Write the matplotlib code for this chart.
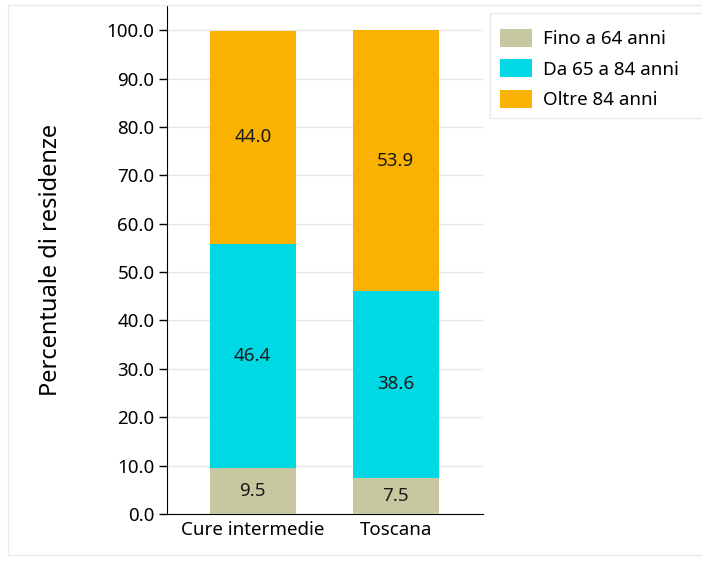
import matplotlib.pyplot as plt
from matplotlib.patches import Rectangle
import numpy as np

plt.rcParams['font.family'] = ['Noto Sans', 'DejaVu Sans']

categories = ["Cure intermedie", "Toscana"]
series_names = ["Fino a 64 anni", "Da 65 a 84 anni", "Oltre 84 anni"]
fino_64 = [9.5, 7.5]
da_65_84 = [46.4, 38.6]
oltre_84 = [44.0, 53.9]
colors = ["#C8C8A0", "#00D9E3", "#F9B200"]

fig = plt.figure(figsize=(7.02, 5.63), dpi=100)
ax = fig.add_axes([167 / 702, 1 - 514 / 563, (483 - 167) / 702, (514 - 5) / 563])

# light frame around the whole chart and around the legend
fig.patches.append(Rectangle((8 / 702, 8 / 563), 1.2, 1 - 13 / 563, transform=fig.transFigure,
                             fill=False, edgecolor="#E6ECEE", linewidth=1))
fig.patches.append(Rectangle((490 / 702, 1 - 118 / 563), 0.5, 105 / 563, transform=fig.transFigure,
                             fill=False, edgecolor="#E6ECEE", linewidth=1))

x = np.arange(len(categories))
bottom = np.zeros(len(categories))
for name, vals, col in zip(series_names, [fino_64, da_65_84, oltre_84], colors):
    bars = ax.bar(x, vals, 0.6, bottom=bottom, color=col, label=name, zorder=3)
    for b, v, bt in zip(bars, vals, bottom):
        ax.text(b.get_x() + b.get_width() / 2, bt + v / 2, f"{v:.1f}",
                ha="center", va="center", fontsize=13.5, color="#1a1a1a", zorder=4)
    bottom += np.array(vals)

ax.set_xlim(-0.6, 1.61)
ax.set_ylim(0, 105.2)
ax.set_yticks(np.arange(0, 101, 10))
ax.set_yticklabels([f"{v:.1f}" for v in np.arange(0, 101, 10)], fontsize=13.5)
ax.set_xticks(x)
ax.set_xticklabels(categories, fontsize=13.5)
ax.tick_params(axis="x", length=0, pad=5)
ax.tick_params(axis="y", length=6, width=1, pad=3)
ax.yaxis.grid(True, color="#E6E6E6", linewidth=1, zorder=0)
ax.set_axisbelow(True)
for s in ["top", "right"]:
    ax.spines[s].set_visible(False)
for s in ["left", "bottom"]:
    ax.spines[s].set_color("#000000")
ax.set_ylabel("Percentuale di residenze", fontsize=17)
ax.yaxis.set_label_coords(-(167 - 63) / 316, 0.5)

leg = ax.legend(loc="upper left", bbox_to_anchor=(500 / 702, 1 - 29 / 563), bbox_transform=fig.transFigure,
                frameon=False, fontsize=13.5, handlelength=1.7, handleheight=1.07, borderpad=0,
                labelspacing=0.6, handletextpad=0.6, borderaxespad=0)

fig.savefig("out.png", dpi=100)
